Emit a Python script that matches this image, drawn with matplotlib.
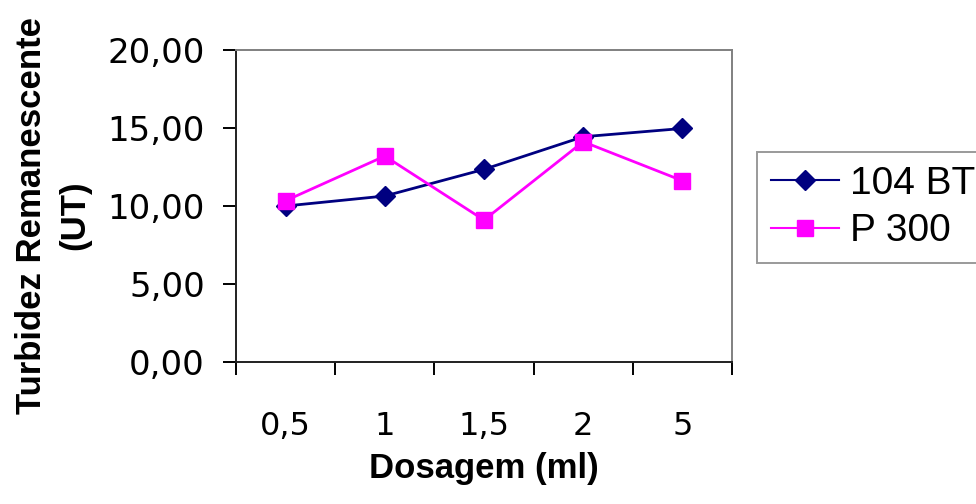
import matplotlib
matplotlib.use("Agg")
import matplotlib.pyplot as plt
import numpy as np

categories = ["0,5", "1", "1,5", "2", "5"]
bt104 = [10.0, 10.64, 12.35, 14.44, 14.97]
p300 = [10.34, 13.2, 9.1, 14.12, 11.62]
yticks = [0, 5, 10, 15, 20]

fig = plt.figure(figsize=(9.76, 5.04), dpi=100)
ax = fig.add_axes([236/976, 1-362/504, (732-236)/976, (362-50)/504])

x = np.arange(len(categories))
ax.plot(x, bt104, color="#000080", lw=2.0, marker="D", ms=10, mec="#000080", mfc="#000080", label="104 BT", zorder=3)
ax.plot(x, p300, color="#FF00FF", lw=2.0, marker="s", ms=11, mec="#FF00FF", mfc="#FF00FF", label="P 300", zorder=3)

ax.set_xlim(-0.5, len(categories) - 0.5)
ax.set_ylim(0, 20)
ax.set_yticks(yticks)
ax.set_yticklabels([f"{v:.2f}".replace(".", ",") for v in yticks], fontfamily="DejaVu Sans", fontsize=24.5)
ax.tick_params(axis="y", direction="out", length=9.5, width=1.4, pad=13, colors="black")

ax.set_xticks(np.arange(-0.5, len(categories)), minor=False)
ax.set_xticklabels([""] * (len(categories) + 1))
ax.set_xticks(x, minor=True)
ax.set_xticklabels(categories, minor=True, fontfamily="DejaVu Sans", fontsize=23)
ax.tick_params(axis="x", which="major", direction="out", length=9, width=1.4, colors="black")
ax.tick_params(axis="x", which="minor", length=0, pad=35)

for s in ["left", "bottom"]:
    ax.spines[s].set_color("#202020")
    ax.spines[s].set_linewidth(1.4)
for s in ["top", "right"]:
    ax.spines[s].set_color("#808080")
    ax.spines[s].set_linewidth(1.4)

fig.text(53/976, 1-215/504, "Turbidez Remanescente\n(UT)", rotation=90, ha="center", va="center",
         multialignment="center", fontfamily="Liberation Sans", fontweight="bold", fontsize=25, linespacing=1.4)
fig.text(484/976, 1-478/504, "Dosagem (ml)", ha="center", va="baseline",
         fontfamily="Liberation Sans", fontweight="bold", fontsize=25)

leg = fig.legend(loc="upper left", bbox_to_anchor=(757/976, 1-152/504), frameon=True, fancybox=False,
                 prop={"family": "Liberation Sans", "size": 28}, handlelength=1.75, handletextpad=0.3,
                 labelspacing=0.3, borderpad=0.35, borderaxespad=0)
leg.get_frame().set_edgecolor("#808080")
leg.get_frame().set_linewidth(1.4)
for h in leg.get_lines():
    h.set_linewidth(1.5)

fig.savefig("out.png", dpi=100)
